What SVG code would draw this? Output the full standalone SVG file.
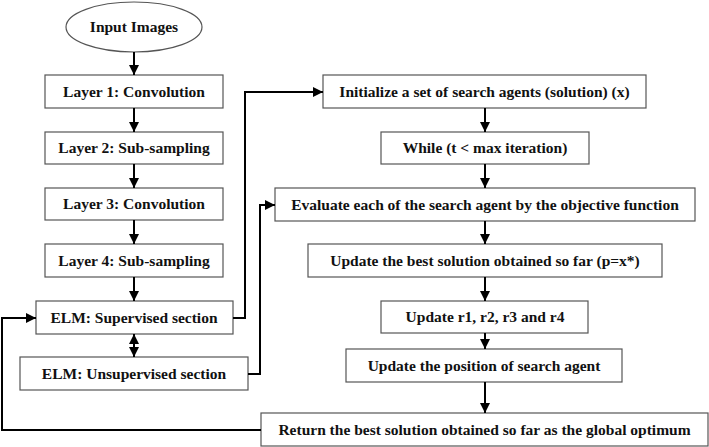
<svg xmlns="http://www.w3.org/2000/svg" width="709" height="447" viewBox="0 0 709 447">
<style>
.box{fill:#fff;stroke:#555;stroke-width:1.2}
.t{font-family:"Liberation Serif","Times New Roman",serif;font-weight:bold;font-size:15.5px;fill:#111;text-anchor:middle}
.c{fill:none;stroke:#000;stroke-width:2}
</style>
<defs>
<marker id="ah" viewBox="0 0 10 10" refX="10" refY="5" markerWidth="5" markerHeight="5" orient="auto-start-reverse" markerUnits="strokeWidth">
<path d="M0,0 L10,5 L0,10 z" fill="#000"/>
</marker>
</defs>
<rect width="709" height="447" fill="#fff"/>
<g id="input"><ellipse class="box" cx="134" cy="27" rx="68" ry="25"/><text class="t" x="134" y="32">Input Images</text></g>
<g id="layer1"><rect class="box" x="45" y="75" width="178" height="33"/><text class="t" x="134" y="97">Layer 1: Convolution</text></g>
<g id="layer2"><rect class="box" x="45" y="132" width="178" height="32"/><text class="t" x="134" y="153">Layer 2: Sub-sampling</text></g>
<g id="layer3"><rect class="box" x="45" y="188" width="178" height="32"/><text class="t" x="134" y="209">Layer 3: Convolution</text></g>
<g id="layer4"><rect class="box" x="45" y="244" width="178" height="33"/><text class="t" x="134" y="266">Layer 4: Sub-sampling</text></g>
<g id="elmsup"><rect class="box" x="36" y="301" width="197" height="33"/><text class="t" x="134" y="323">ELM: Supervised section</text></g>
<g id="elmunsup"><rect class="box" x="20" y="357" width="228" height="33"/><text class="t" x="134" y="379">ELM: Unsupervised section</text></g>
<g id="init"><rect class="box" x="323" y="75" width="323" height="33"/><text class="t" x="484.5" y="97">Initialize a set of search agents (solution) (x)</text></g>
<g id="while"><rect class="box" x="381" y="132" width="208" height="32"/><text class="t" x="485" y="153">While (t &lt; max iteration)</text></g>
<g id="evaluate"><rect class="box" x="275" y="188" width="420" height="33"/><text class="t" x="485" y="210">Evaluate each of the search agent by the objective function</text></g>
<g id="updbest"><rect class="box" x="308" y="244" width="354" height="33"/><text class="t" x="485" y="266">Update the best solution obtained so far (p=x*)</text></g>
<g id="updr"><rect class="box" x="381" y="301" width="207" height="32"/><text class="t" x="485" y="322">Update r1, r2, r3 and r4</text></g>
<g id="updpos"><rect class="box" x="346" y="349" width="276" height="33"/><text class="t" x="484" y="371">Update the position of search agent</text></g>
<g id="return"><rect class="box" x="261" y="413" width="447" height="33"/><text class="t" x="484.5" y="435">Return the best solution obtained so far as the global optimum</text></g>
<g id="connectors">
<path class="c" d="M134,52 V75" marker-end="url(#ah)"/>
<path class="c" d="M134,108 V132" marker-end="url(#ah)"/>
<path class="c" d="M134,164 V188" marker-end="url(#ah)"/>
<path class="c" d="M134,220 V244" marker-end="url(#ah)"/>
<path class="c" d="M134,277 V301" marker-end="url(#ah)"/>
<path class="c" d="M134,334 V357" marker-start="url(#ah)" marker-end="url(#ah)"/>
<path class="c" d="M233,318 H245 V92 H323" marker-end="url(#ah)"/>
<path class="c" d="M248,374 H260 V205 H275" marker-end="url(#ah)"/>
<path class="c" d="M261,430 H2 V318 H36" marker-end="url(#ah)"/>
<path class="c" d="M485,108 V132" marker-end="url(#ah)"/>
<path class="c" d="M485,164 V188" marker-end="url(#ah)"/>
<path class="c" d="M485,221 V244" marker-end="url(#ah)"/>
<path class="c" d="M485,277 V301" marker-end="url(#ah)"/>
<path class="c" d="M485,333 V349" marker-end="url(#ah)"/>
<path class="c" d="M485,382 V413" marker-end="url(#ah)"/>
</g>
</svg>
